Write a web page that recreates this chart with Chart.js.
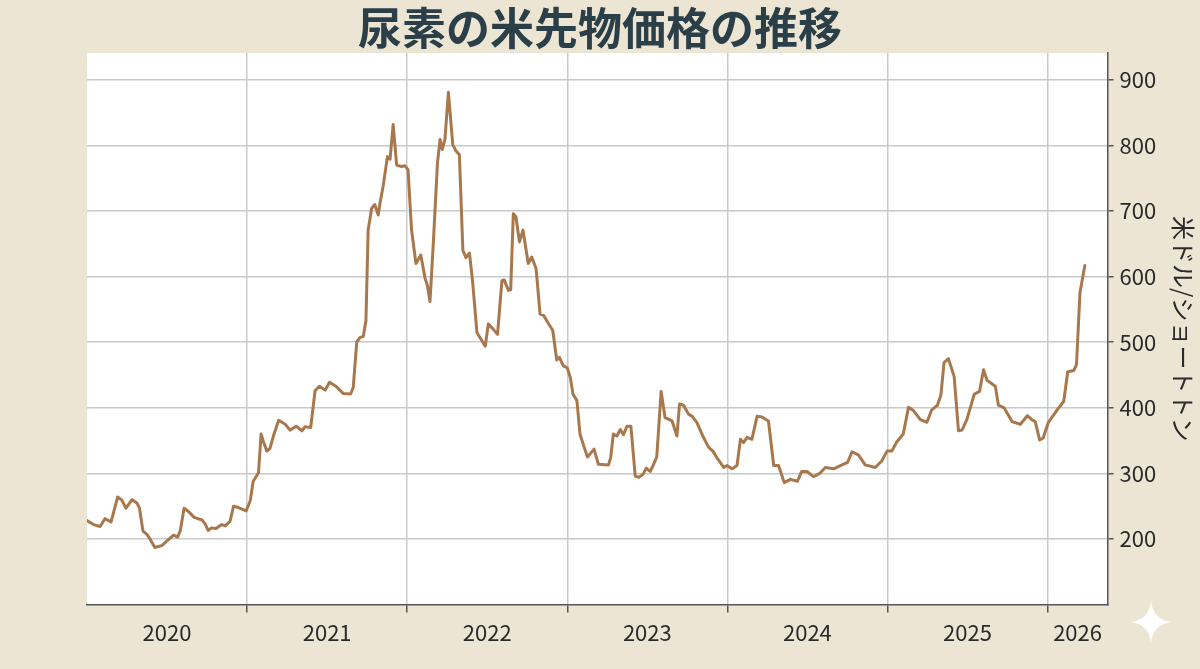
<!DOCTYPE html>
<html lang="ja">
<head>
<meta charset="utf-8">
<script src="https://cdn.jsdelivr.net/npm/chart.js@4.4.1/dist/chart.umd.min.js"></script>
<style>
  html, body { margin: 0; padding: 0; background: #ece5d4; }
  #c { display: block; }
</style>
</head>
<body>
<canvas id="c" width="1200" height="669"></canvas>
<script>
const chartTitle = '尿素の米先物価格の推移';
const yAxisTitle = '米ドル/ショートトン';
const yearLabels = ['2020', '2021', '2022', '2023', '2024', '2025', '2026'];
const yTickValues = [200, 300, 400, 500, 600, 700, 800, 900];

const dates = [
  '2020-01-01','2020-01-16','2020-01-31','2020-02-11','2020-02-25','2020-03-11','2020-03-21','2020-03-30',
  '2020-04-13','2020-04-24','2020-04-30','2020-05-08','2020-05-17','2020-05-25','2020-06-04','2020-06-20',
  '2020-07-05','2020-07-17','2020-07-26','2020-08-01','2020-08-10','2020-08-20','2020-09-02','2020-09-20',
  '2020-09-27','2020-10-04','2020-10-12','2020-10-22','2020-11-04','2020-11-12','2020-11-23','2020-12-01',
  '2020-12-12','2020-12-30','2021-01-08','2021-01-15','2021-01-27','2021-02-02','2021-02-07','2021-02-15',
  '2021-02-22','2021-03-02','2021-03-14','2021-03-29','2021-04-09','2021-04-23','2021-05-06','2021-05-13',
  '2021-05-26','2021-06-05','2021-06-15','2021-06-28','2021-07-08','2021-07-24','2021-08-08','2021-08-25',
  '2021-08-31','2021-09-08','2021-09-15','2021-09-23','2021-09-29','2021-10-04','2021-10-12','2021-10-19',
  '2021-10-27','2021-10-31','2021-11-07','2021-11-17','2021-11-23','2021-11-30','2021-12-08','2021-12-19',
  '2021-12-27','2022-01-03','2022-01-11','2022-01-21','2022-02-01','2022-02-11','2022-02-16','2022-02-22',
  '2022-03-02','2022-03-11','2022-03-17','2022-03-22','2022-03-28','2022-04-05','2022-04-15','2022-04-22',
  '2022-04-30','2022-05-08','2022-05-15','2022-05-23','2022-05-30','2022-06-09','2022-06-18','2022-06-28',
  '2022-07-05','2022-07-16','2022-07-26','2022-08-05','2022-08-10','2022-08-20','2022-08-25','2022-08-31',
  '2022-09-06','2022-09-14','2022-09-22','2022-10-04','2022-10-12','2022-10-22','2022-10-31','2022-11-08',
  '2022-11-17','2022-11-29','2022-12-08','2022-12-14','2022-12-23','2023-01-01','2023-01-08','2023-01-14',
  '2023-01-23','2023-01-30','2023-02-09','2023-02-16','2023-03-03','2023-03-13','2023-04-05','2023-04-10',
  '2023-04-16','2023-04-24','2023-05-02','2023-05-09','2023-05-17','2023-05-26','2023-06-05','2023-06-13',
  '2023-06-23','2023-06-30','2023-07-09','2023-07-15','2023-07-24','2023-08-03','2023-08-12','2023-08-28',
  '2023-09-08','2023-09-14','2023-09-23','2023-10-05','2023-10-13','2023-10-24','2023-11-06','2023-11-19',
  '2023-11-29','2023-12-10','2023-12-24','2023-12-31','2024-01-12','2024-01-23','2024-01-31','2024-02-07',
  '2024-02-15','2024-02-26','2024-03-09','2024-03-20','2024-04-04','2024-04-16','2024-04-27','2024-05-10',
  '2024-05-24','2024-06-09','2024-06-19','2024-07-01','2024-07-16','2024-07-30','2024-08-12','2024-08-31',
  '2024-09-19','2024-10-02','2024-10-12','2024-10-27','2024-11-11','2024-12-04','2024-12-19','2024-12-31',
  '2025-01-11','2025-01-22','2025-02-06','2025-02-18','2025-03-01','2025-03-17','2025-04-01','2025-04-12',
  '2025-04-25','2025-05-03','2025-05-10','2025-05-20','2025-06-02','2025-06-12','2025-06-20','2025-07-01',
  '2025-07-18','2025-07-30','2025-08-08','2025-08-16','2025-09-04','2025-09-11','2025-09-24','2025-10-12',
  '2025-10-31','2025-11-16','2025-11-26','2025-12-04','2025-12-14','2025-12-22','2026-01-03','2026-01-23',
  '2026-02-07','2026-02-16','2026-03-02','2026-03-08','2026-03-16','2026-03-27'
];

const prices = [
  228,222,219,231,226,264,259,247,
  260,255,247,212,207,199,187,190,
  199,206,203,212,247,242,233,229,
  223,213,217,216,222,220,227,250,
  248,243,258,288,301,360,349,334,
  338,357,381,375,366,372,365,371,
  370,426,433,427,439,432,422,421,
  431,500,507,509,533,671,704,710,
  694,712,737,783,779,832,770,768,
  769,763,671,620,633,597,587,562,
  656,773,809,794,809,881,801,792,
  786,640,629,636,594,515,505,494,
  528,520,512,594,595,579,580,696,
  691,653,671,620,630,612,543,541,
  531,518,473,477,464,461,446,421,
  411,360,339,325,337,314,313,324,
  360,357,367,359,372,372,296,294,
  299,308,303,311,325,425,385,380,
  357,406,404,390,387,377,357,340,
  334,322,309,312,307,312,352,347,
  355,352,387,386,380,312,312,286,
  291,288,303,303,295,300,309,307,
  313,317,333,328,313,309,319,334,
  334,348,360,401,396,382,378,397,
  404,420,469,475,448,365,366,382,
  421,425,458,442,433,404,400,379,
  375,388,382,379,351,354,378,397,
  410,455,457,466,576,617
];

const X_MIN = 2020;
const X_MAX = 2026.375;
const Y_MIN = 100;
const Y_MAX = 941;

function toDecimalYear(s) {
  const [y, m, d] = s.split('-').map(Number);
  const start = Date.UTC(y, 0, 1);
  const end = Date.UTC(y + 1, 0, 1);
  return y + (Date.UTC(y, m - 1, d) - start) / (end - start);
}

const points = dates.map((d, i) => ({ x: toDecimalYear(d), y: prices[i] }));
const yearBoundaries = yearLabels.map(Number).filter(v => v > X_MIN && v < X_MAX);
const yearLabelPositions = yearLabels.map(Number).map(v => (Math.max(v, X_MIN) + Math.min(v + 1, X_MAX)) / 2);

const FONT = '"Noto Sans CJK JP", "Noto Sans", sans-serif';

const bgPlugin = {
  id: 'bg',
  beforeDraw(chart) {
    const { ctx, chartArea: a, width, height } = chart;
    ctx.save();
    ctx.fillStyle = '#ece5d4';
    ctx.fillRect(0, 0, width, height);
    ctx.fillStyle = '#ffffff';
    ctx.fillRect(a.left, a.top, a.right - a.left, a.bottom - a.top);
    ctx.restore();
  },
  afterDraw(chart) {
    // decorative sparkle at bottom-right
    const ctx = chart.ctx;
    const cx = 1151, cy = 622, r = 21;
    ctx.save();
    ctx.fillStyle = '#ffffff';
    ctx.beginPath();
    ctx.moveTo(cx, cy - r);
    ctx.quadraticCurveTo(cx + 2, cy - 2, cx + r, cy);
    ctx.quadraticCurveTo(cx + 2, cy + 2, cx, cy + r);
    ctx.quadraticCurveTo(cx - 2, cy + 2, cx - r, cy);
    ctx.quadraticCurveTo(cx - 2, cy - 2, cx, cy - r);
    ctx.fill();
    ctx.restore();
  }
};

new Chart(document.getElementById('c'), {
  type: 'line',
  data: {
    datasets: [{
      data: points,
      borderColor: '#a8784c',
      borderWidth: 3,
      pointRadius: 0,
      tension: 0,
      borderJoinStyle: 'round',
      borderCapStyle: 'round',
      xAxisID: 'x',
      yAxisID: 'y'
    }]
  },
  options: {
    responsive: false,
    devicePixelRatio: 1,
    animation: false,
    parsing: false,
    layout: { padding: { left: 0, right: 0, top: 0, bottom: 16 } },
    plugins: {
      legend: { display: false },
      tooltip: { enabled: false },
      title: {
        display: true,
        text: chartTitle,
        color: '#2b3f48',
        font: { family: FONT, size: 44, weight: 'bold', lineHeight: 1.0 },
        padding: { top: 6, bottom: 3 }
      }
    },
    scales: {
      x: {
        type: 'linear',
        position: 'bottom',
        min: X_MIN,
        max: X_MAX,
        afterBuildTicks(axis) { axis.ticks = yearBoundaries.map(v => ({ value: v })); },
        ticks: { display: false },
        grid: { color: '#c9c9c9', lineWidth: 1.5, tickLength: 8, tickColor: '#555555', drawTicks: true },
        border: { display: true, color: '#555555', width: 1.5 }
      },
      x2: {
        type: 'linear',
        position: 'bottom',
        min: X_MIN,
        max: X_MAX,
        afterBuildTicks(axis) { axis.ticks = yearLabelPositions.map(v => ({ value: v })); },
        ticks: {
          autoSkip: false,
          maxRotation: 0,
          padding: 7,
          color: '#2a2a2a',
          font: { family: FONT, size: 22 },
          callback: (v, i) => yearLabels[i]
        },
        grid: { display: false, drawTicks: false },
        border: { display: false }
      },
      yLeft: {
        type: 'linear',
        position: 'left',
        min: Y_MIN,
        max: Y_MAX,
        afterFit(scale) { scale.width = 87; },
        ticks: { display: false },
        grid: { display: false, drawTicks: false },
        border: { display: false }
      },
      y: {
        type: 'linear',
        position: 'right',
        min: Y_MIN,
        max: Y_MAX,
        afterBuildTicks(axis) { axis.ticks = yTickValues.map(v => ({ value: v })); },
        ticks: {
          padding: 6,
          color: '#2a2a2a',
          font: { family: FONT, size: 22 }
        },
        grid: { color: '#c9c9c9', lineWidth: 1.5, tickLength: 6, tickColor: '#555555', drawTicks: true },
        border: { display: true, color: '#555555', width: 1.5 },
        title: {
          display: true,
          text: yAxisTitle,
          color: '#2a2a2a',
          font: { family: FONT, size: 24, lineHeight: 1.2 },
          padding: { top: 2, bottom: 7 }
        }
      }
    }
  },
  plugins: [bgPlugin]
});
</script>
</body>
</html>
